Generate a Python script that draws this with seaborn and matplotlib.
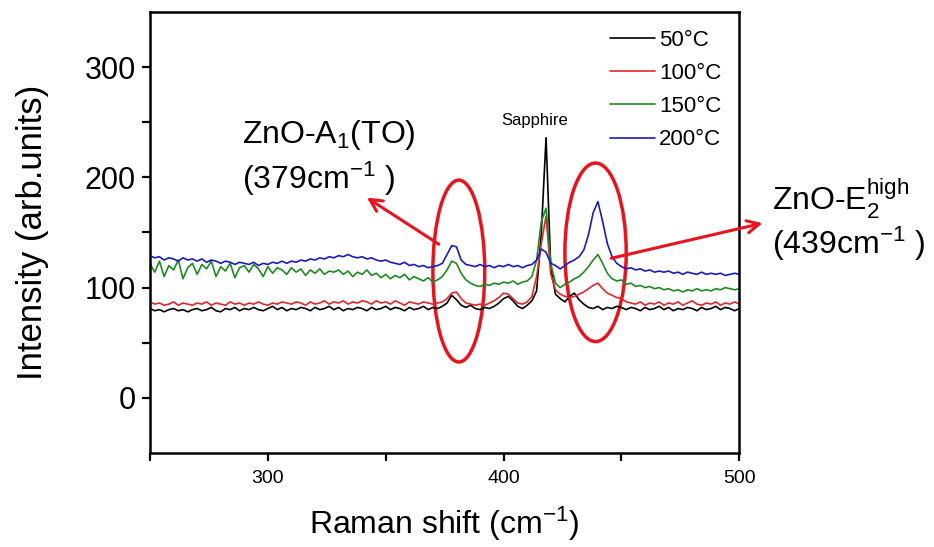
import numpy as np
import pandas as pd
import matplotlib
matplotlib.use("Agg")
import matplotlib.pyplot as plt
import seaborn as sns
from matplotlib.patches import Ellipse

# Raman shift grid (cm^-1)
raman_shift = np.arange(250, 501, 2)

labels = ["50°C", "100°C", "150°C", "200°C"]
colors = ["#000000", "#e3262b", "#1f8a1f", "#1a1ac0"]

int_50 = [
    81, 79, 80, 78, 80, 81, 79, 80, 78, 80,
    81, 79, 80, 82, 79, 78, 81, 80, 82, 79,
    81, 80, 82, 80, 79, 81, 83, 80, 82, 79,
    81, 80, 82, 81, 79, 82, 80, 81, 83, 80,
    82, 79, 81, 80, 82, 81, 79, 82, 80, 81,
    83, 80, 82, 81, 79, 82, 80, 81, 83, 80,
    82, 81, 83, 86, 93, 89, 84, 82, 84, 81,
    80, 82, 81, 83, 86, 90, 92, 88, 83, 81,
    84, 88, 97, 150, 236, 118, 94, 90, 87, 92,
    95, 89, 85, 82, 81, 83, 80, 82, 81, 83,
    82, 80, 82, 81, 79, 82, 80, 81, 83, 80,
    82, 79, 81, 80, 82, 81, 79, 82, 80, 81,
    83, 80, 82, 81, 79, 81,
]
int_100 = [
    87, 85, 86, 84, 85, 87, 84, 86, 85, 84,
    86, 85, 87, 84, 86, 85, 84, 87, 85, 86,
    84, 86, 85, 87, 85, 84, 86, 85, 87, 86,
    85, 87, 86, 84, 87, 85, 86, 88, 85, 87,
    86, 88, 85, 87, 86, 88, 87, 85, 88, 86,
    87, 85, 88, 86, 84, 87, 86, 85, 87, 86,
    85, 86, 87, 90, 95, 96, 90, 86, 85, 84,
    85, 84, 86, 88, 91, 95, 94, 90, 86, 85,
    87, 92, 110, 140, 165, 112, 98, 94, 92, 91,
    92, 94, 96, 99, 102, 104, 99, 95, 93, 91,
    90, 87, 86, 85, 87, 84, 86, 85, 87, 84,
    86, 85, 87, 84, 86, 88, 85, 84, 86, 85,
    87, 84, 86, 85, 87, 85,
]
int_150 = [
    122, 114, 124, 110, 120, 116, 125, 108, 118, 122,
    112, 121, 117, 124, 110, 119, 115, 122, 109, 118,
    120, 114, 121, 117, 110, 119, 113, 118, 116, 112,
    118, 114, 117, 111, 116, 113, 117, 112, 115, 114,
    116, 112, 115, 110, 114, 112, 116, 111, 113, 109,
    112, 108, 111, 109, 112, 107, 110, 108, 106, 109,
    105, 107, 110, 116, 124, 122, 113, 107, 104, 102,
    101, 103, 102, 104, 103, 105, 104, 106, 103, 105,
    106, 110, 125, 160, 172, 122, 104, 100, 103, 105,
    108, 110, 114, 119, 125, 130, 122, 113, 108, 106,
    107, 103, 104, 101, 102, 100, 101, 99, 100, 98,
    99, 97, 98, 96, 98, 97, 99, 97, 98, 97,
    99, 98, 100, 99, 98, 99,
]
int_200 = [
    129, 127, 128, 125, 127, 126, 124, 127, 125, 126,
    124, 126, 123, 125, 124, 122, 124, 123, 121, 123,
    122, 121, 123, 120, 122, 121, 123, 122, 124, 122,
    124, 123, 125, 124, 126, 125, 127, 126, 128, 127,
    129, 128, 130, 128, 127, 128, 126, 127, 125, 124,
    125, 123, 122, 121, 123, 120, 121, 119, 120, 118,
    119, 120, 122, 130, 138, 137, 125, 121, 120, 119,
    121, 119, 120, 118, 120, 119, 121, 119, 120, 118,
    120, 121, 125, 135, 132, 122, 120, 117, 120, 123,
    125, 128, 134, 148, 168, 178, 160, 140, 128, 122,
    119, 117, 118, 116, 117, 115, 116, 114, 115, 114,
    115, 113, 114, 112, 114, 113, 112, 114, 112, 113,
    112, 113, 111, 112, 113, 112,
]
series = [int_50, int_100, int_150, int_200]

x_ticks = [250, 300, 350, 400, 450, 500]
x_ticklabels = ["", "300", "", "400", "", "500"]
y_ticks = [0, 50, 100, 150, 200, 250, 300]
y_ticklabels = ["0", "", "100", "", "200", "", "300"]

df = pd.concat(
    [pd.DataFrame({"shift": raman_shift, "intensity": s, "T": lab})
     for s, lab in zip(series, labels)],
    ignore_index=True,
)

sns.set_style("ticks", rc={"text.color": "black", "axes.labelcolor": "black",
                           "xtick.color": "black", "ytick.color": "black",
                           "axes.edgecolor": "black"})
plt.rcParams["font.family"] = ["Liberation Sans", "DejaVu Sans"]
plt.rcParams["mathtext.fontset"] = "custom"
plt.rcParams["mathtext.rm"] = "Liberation Sans"
plt.rcParams["mathtext.it"] = "Liberation Sans:italic"
plt.rcParams["mathtext.default"] = "regular"

fig = plt.figure(figsize=(9.34, 5.47), dpi=100)
ax = fig.add_axes([0.1606, 0.172, 0.631, 0.806])

sns.lineplot(data=df, x="shift", y="intensity", hue="T",
             palette=dict(zip(labels, colors)), linewidth=1.2,
             estimator=None, sort=False, ax=ax)

ax.set_xlim(250, 500)
ax.set_ylim(-50, 350)
ax.set_xticks(x_ticks)
ax.set_xticklabels(x_ticklabels)
ax.set_yticks(y_ticks)
ax.set_yticklabels(y_ticklabels)
ax.tick_params(axis="x", direction="out", length=6, width=1.6, labelsize=14, pad=6)
ax.tick_params(axis="y", direction="out", length=6, width=1.6, labelsize=22, pad=4)
for sp in ax.spines.values():
    sp.set_linewidth(1.8)
    sp.set_color("black")

ax.set_xlabel("Raman shift (cm$^{-1}$)", fontsize=23, labelpad=13)
ax.set_ylabel("Intensity (arb.units)", fontsize=25, labelpad=26)

red = "#e8141c"
ax.add_patch(Ellipse((381, 115), width=22, height=165, fill=False,
                     edgecolor=red, linewidth=2.5))
ax.add_patch(Ellipse((439, 132), width=26, height=162, fill=False,
                     edgecolor=red, linewidth=2.5))
ax.annotate("", xy=(341, 183), xytext=(373.5, 138),
            arrowprops=dict(arrowstyle="->", color=red, lw=2.2, mutation_scale=22))
ax.annotate("", xy=(511, 159), xytext=(444.5, 126), annotation_clip=False,
            arrowprops=dict(arrowstyle="->", color=red, lw=2.2, mutation_scale=22))

ax.text(289, 238, "ZnO-A$_1$(TO)", fontsize=23, ha="left", va="center", clip_on=False)
ax.text(289, 199, "(379cm$^{-1}$ )", fontsize=23, ha="left", va="center", clip_on=False)
ax.text(514, 181, "ZnO-E$_2^{high}$", fontsize=23, ha="left", va="center", clip_on=False)
ax.text(514, 140, "(439cm$^{-1}$ )", fontsize=23, ha="left", va="center", clip_on=False)
ax.text(413, 252, "Sapphire", fontsize=12, ha="center", va="center")

ax.legend(loc="upper right", frameon=False, fontsize=16, handlelength=2.0,
          handletextpad=0.2, labelspacing=0.55, borderaxespad=0.5,
          borderpad=0.3, title=None)

fig.savefig("out.png", dpi=100)
